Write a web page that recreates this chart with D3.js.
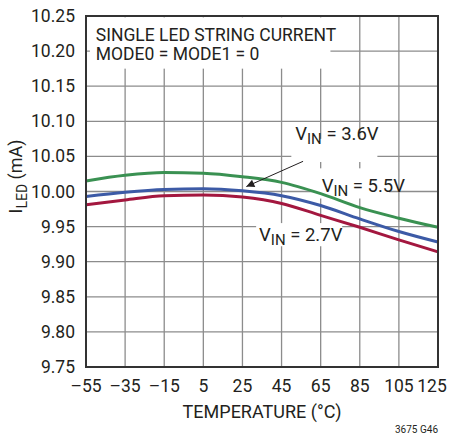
<html lang="en">
<head>
  <meta charset="UTF-8">
  <title>ILED vs Temperature</title>
  <script src="https://d3js.org/d3.v7.min.js"></script>
  <style>
    body { margin: 0; background: white; }
    svg text { font-family: Roboto, "Liberation Sans", Arial, sans-serif; fill: #231f20; }
  </style>
</head>
<body>
  <svg class="chart" width="451" height="434"></svg>
  <script>
    // temperatures (°C) where the curves were read
    const temps = [-55, -35, -15, 5, 25, 45, 65, 85, 105, 125];
    const vin55 = [10.015, 10.023, 10.027, 10.026, 10.021, 10.013, 9.997, 9.977, 9.962, 9.949];
    const vin36 = [9.993, 9.999, 10.003, 10.004, 10.001, 9.994, 9.980, 9.961, 9.943, 9.928];
    const vin27 = [9.981, 9.988, 9.994, 9.995, 9.992, 9.983, 9.966, 9.949, 9.931, 9.914];
    const xTicks = [-55, -35, -15, 5, 25, 45, 65, 85, 105, 125];
    const yTicks = [9.75, 9.80, 9.85, 9.90, 9.95, 10.00, 10.05, 10.10, 10.15, 10.20, 10.25];

    const margin = { left: 86, top: 16, right: 13, bottom: 67 };
    const width = 451 - margin.left - margin.right;
    const height = 434 - margin.top - margin.bottom;

    const svg = d3.select('svg.chart');
    const g = svg.append('g').attr('transform', `translate(${margin.left},${margin.top})`);

    const x = d3.scaleLinear().domain([-55, 125]).range([0, width]);
    const y = d3.scaleLinear().domain([9.75, 10.25]).range([height, 0]);

    // grid
    g.append('g').selectAll('line').data(xTicks.slice(1, -1)).join('line')
      .attr('x1', d => x(d)).attr('x2', d => x(d))
      .attr('y1', 0).attr('y2', height)
      .attr('stroke', '#8c8c8c').attr('stroke-width', 1.3);
    g.append('g').selectAll('line').data(yTicks.slice(1, -1)).join('line')
      .attr('x1', 0).attr('x2', width)
      .attr('y1', d => y(d)).attr('y2', d => y(d))
      .attr('stroke', '#8c8c8c').attr('stroke-width', 1.3);

    // tick labels
    const fmtY = d3.format('.2f');
    g.append('g').selectAll('text').data(yTicks).join('text')
      .attr('x', -11).attr('y', d => y(d) + 6)
      .attr('text-anchor', 'end').attr('font-size', 17.5)
      .text(d => fmtY(d));
    g.append('g').selectAll('text').data(xTicks).join('text')
      .attr('x', (d, i) => x(d) - (i === xTicks.length - 1 ? 6 : 0))
      .attr('y', height + 25)
      .attr('text-anchor', 'middle').attr('font-size', 17.5)
      .text(d => d < 0 ? '\u2013' + Math.abs(d) : d);

    // white boxes behind labels
    function box(t0, t1, v0, v1) {
      g.append('rect')
        .attr('x', x(t0)).attr('y', y(v1))
        .attr('width', x(t1) - x(t0)).attr('height', y(v0) - y(v1))
        .attr('fill', 'white');
    }
    box(-53, 70, 10.175, 10.248);
    box(50, 94, 10.042, 10.075);
    box(62, 100, 9.990, 10.033);
    box(32, 76, 9.922, 9.955);

    // curves
    const line = d3.line()
      .x((d, i) => x(temps[i]))
      .y(d => y(d))
      .curve(d3.curveMonotoneX);
    const series = [
      { vals: vin55, color: '#3a9152' },
      { vals: vin36, color: '#3c5aa6' },
      { vals: vin27, color: '#a3173f' }
    ];
    g.append('g').selectAll('path').data(series).join('path')
      .attr('d', d => line(d.vals))
      .attr('fill', 'none')
      .attr('stroke', d => d.color)
      .attr('stroke-width', 3);

    // frame
    g.append('rect').attr('width', width).attr('height', height)
      .attr('fill', 'none').attr('stroke', '#333').attr('stroke-width', 2);

    // title text
    g.append('text').attr('x', x(-50)).attr('y', y(10.215))
      .attr('font-size', 17.5).text('SINGLE LED STRING CURRENT');
    g.append('text').attr('x', x(-50)).attr('y', y(10.187))
      .attr('font-size', 17.5).text('MODE0 = MODE1 = 0');

    // VIN labels
    function vinLabel(t, v, s) {
      const tx = g.append('text').attr('x', x(t)).attr('y', y(v)).attr('font-size', 18.5);
      tx.append('tspan').text('V');
      tx.append('tspan').attr('font-size', 15).attr('dy', 4).text('IN');
      tx.append('tspan').attr('dy', -4).text(' = ' + s);
    }
    vinLabel(52, 10.073, '3.6V');
    vinLabel(65.5, 10.0, '5.5V');
    vinLabel(33.5, 9.93, '2.7V');

    // arrow
    svg.append('defs').append('marker')
      .attr('id', 'ah').attr('viewBox', '0 0 10 10')
      .attr('refX', 10).attr('refY', 5)
      .attr('markerWidth', 11).attr('markerHeight', 8)
      .attr('markerUnits', 'userSpaceOnUse')
      .attr('orient', 'auto')
      .append('path').attr('d', 'M0,0 L10,5 L0,10 Z').attr('fill', '#231f20');
    g.append('line')
      .attr('x1', x(56)).attr('y1', y(10.043))
      .attr('x2', x(27)).attr('y2', y(10.007))
      .attr('stroke', '#231f20').attr('stroke-width', 1)
      .attr('marker-end', 'url(#ah)');

    // axis titles
    g.append('text').attr('x', width / 2).attr('y', height + 51)
      .attr('text-anchor', 'middle').attr('font-size', 18)
      .text('TEMPERATURE (°C)');
    const yt = svg.append('text')
      .attr('transform', `translate(22,${margin.top + height / 2 - 15}) rotate(-90)`)
      .attr('text-anchor', 'middle').attr('font-size', 18);
    yt.append('tspan').text('I');
    yt.append('tspan').attr('font-size', 14).attr('dy', 5).text('LED');
    yt.append('tspan').attr('dy', -5).text(' (mA)');

    svg.append('text').attr('x', margin.left + width).attr('y', 433)
      .attr('text-anchor', 'end').attr('font-size', 10).text('3675 G46');
  </script>
</body>
</html>
